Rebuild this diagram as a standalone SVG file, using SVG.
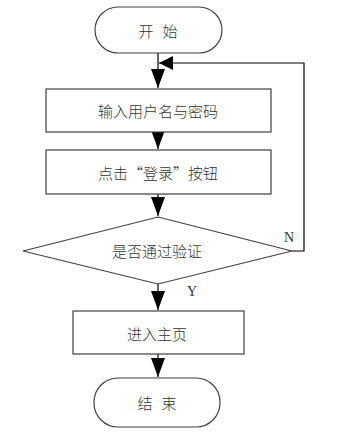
<svg xmlns="http://www.w3.org/2000/svg" width="360" height="436" viewBox="0 0 360 436">
<defs>
<style>
.shape{fill:#fff;stroke:#404040;stroke-width:1.2}
.t{font-family:"Noto Sans CJK SC","Noto Sans CJK JP",sans-serif;font-size:15px;fill:#333;text-anchor:middle;dominant-baseline:central;font-weight:300}
.lbl{font-family:"Liberation Serif",serif;font-size:14px;fill:#333}
.line{fill:none;stroke:#000;stroke-width:1.2}
</style>
<marker id="ah" markerUnits="userSpaceOnUse" markerWidth="20" markerHeight="16" viewBox="0 0 20 16" refX="19" refY="7" orient="auto">
<path d="M0,0 L19,7 L0,14 Z" fill="#000"/>
</marker>
<marker id="ahs" markerUnits="userSpaceOnUse" markerWidth="16" markerHeight="16" viewBox="0 0 16 16" refX="14" refY="7" orient="auto">
<path d="M0,0 L14,7 L0,14 Z" fill="#000"/>
</marker>
</defs>
<rect width="360" height="436" fill="#fff"/>
<g id="connectors">
<path class="line" d="M158,53 V88" marker-end="url(#ah)"/>
<path class="line" d="M158,132 V149" marker-end="url(#ah)"/>
<path class="line" d="M158,194 V216" marker-end="url(#ah)"/>
<path class="line" d="M158,284 V310" marker-end="url(#ah)"/>
<path class="line" d="M158,354 V377" marker-end="url(#ah)"/>
<path class="line" d="M292,251 H304 V63 H159" marker-end="url(#ahs)"/>
<text class="lbl" x="284" y="242">N</text>
<text class="lbl" x="187" y="296">Y</text>
</g>
<g id="start">
<rect class="shape" x="95" y="7" width="127" height="46" rx="23"/>
<text class="t" y="30"><tspan x="146">开</tspan><tspan x="170">始</tspan></text>
</g>
<g id="input">
<rect class="shape" x="46" y="89" width="225" height="43"/>
<text class="t" x="158" y="110">输入用户名与密码</text>
</g>
<g id="click">
<rect class="shape" x="46" y="150" width="225" height="44"/>
<text class="t" x="158" y="172">点击“登录”按钮</text>
</g>
<g id="verify">
<polygon class="shape" points="158,217 292,251 158,284 23,251"/>
<text class="t" x="157" y="250">是否通过验证</text>
</g>
<g id="home">
<rect class="shape" x="73" y="311" width="171" height="43"/>
<text class="t" x="157" y="333">进入主页</text>
</g>
<g id="end">
<rect class="shape" x="94" y="378" width="126" height="49" rx="24"/>
<text class="t" y="402"><tspan x="145">结</tspan><tspan x="169">束</tspan></text>
</g>
</svg>
